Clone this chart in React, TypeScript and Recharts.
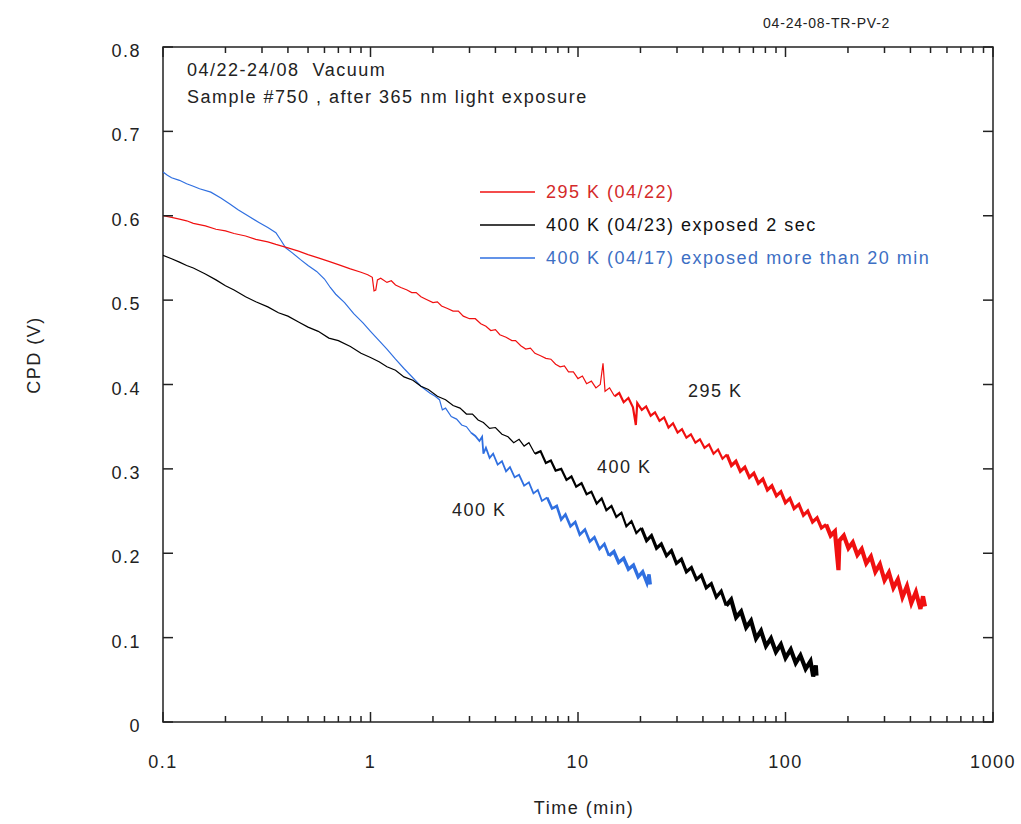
import { Line, LineChart, ReferenceArea, XAxis, YAxis } from "recharts";

const FONT = '"Liberation Sans", Arial, sans-serif';
const W = 1021;
const H = 824;
const MARGIN = { top: 47, right: 28, bottom: 72, left: 0 };
const PLOT_TOP = MARGIN.top;
const PLOT_RIGHT = W - MARGIN.right;

const MAJOR_TICKS = [0.1, 1, 10, 100, 1000];
const MINOR_TICKS = [
  0.2, 0.3, 0.4, 0.5, 0.6, 0.7, 0.8, 0.9,
  2, 3, 4, 5, 6, 7, 8, 9,
  20, 30, 40, 50, 60, 70, 80, 90,
  200, 300, 400, 500, 600, 700, 800, 900,
];
const Y_TICKS = [0, 0.1, 0.2, 0.3, 0.4, 0.5, 0.6, 0.7, 0.8];

// 295 K (04/22)
const RED_T = [
  0.1, 0.11, 0.12, 0.13, 0.14, 0.16, 0.18, 0.2, 0.22, 0.25, 0.28, 0.32, 0.35, 0.4, 0.45, 0.5,
  0.56, 0.63, 0.7, 0.8, 0.9, 0.97, 1.02, 1.04, 1.06, 1.08, 1.12, 1.2, 1.26, 1.32, 1.4, 1.5,
  1.58, 1.66, 1.75, 1.85, 2.0, 2.1, 2.2, 2.35, 2.5, 2.65, 2.8, 3.0, 3.2, 3.4, 3.6, 3.8,
  4.0, 4.2, 4.5, 4.8, 5.0, 5.3, 5.6, 5.9, 6.2, 6.6, 7.0, 7.4, 7.8, 8.2, 8.6, 9.0,
  9.5, 10.0, 10.5, 11.0, 11.6, 12.2, 12.8, 13.2, 13.5, 14.2, 15.0, 15.8, 16.6, 17.5, 18.4, 19.0,
  19.3, 20.3, 21.3, 22.4, 23.5, 24.7, 26.0, 27.3, 28.7, 30.2, 31.7, 33.3, 35.0, 36.8, 38.7, 40.7,
  42.8, 45.0, 47.3, 49.7, 52.2, 54.9, 57.7, 60.6, 63.7, 67.0, 70.4, 74.0, 77.8, 81.8, 86.0, 90.4,
  95.0, 99.9, 105, 110, 116, 122, 128, 135, 142, 149, 157, 165, 173, 180, 182, 191,
  201, 211, 222, 233, 245, 258, 271, 285, 300, 315, 331, 348, 366, 385, 404, 425,
  447, 460, 470,
];
const RED_V = [
  0.6, 0.598, 0.596, 0.594, 0.591, 0.588, 0.584, 0.582, 0.579, 0.576, 0.572, 0.569, 0.566, 0.562, 0.558, 0.554,
  0.55, 0.546, 0.542, 0.537, 0.533, 0.53, 0.527, 0.511, 0.512, 0.524, 0.526, 0.521, 0.523, 0.518, 0.515, 0.512,
  0.509, 0.509, 0.504, 0.501, 0.497, 0.498, 0.493, 0.49, 0.487, 0.487, 0.481, 0.478, 0.478, 0.472, 0.469, 0.464,
  0.465, 0.459, 0.456, 0.452, 0.452, 0.446, 0.442, 0.443, 0.437, 0.434, 0.431, 0.43, 0.424, 0.421, 0.422, 0.415,
  0.415, 0.407, 0.41, 0.401, 0.404, 0.396, 0.4, 0.425, 0.392, 0.396, 0.386, 0.39, 0.379, 0.384, 0.373, 0.352,
  0.378, 0.37, 0.374, 0.363, 0.367, 0.357, 0.361, 0.349, 0.354, 0.343, 0.347, 0.337, 0.341, 0.331, 0.335, 0.325,
  0.329, 0.318, 0.323, 0.312, 0.317, 0.304, 0.309, 0.297, 0.302, 0.29, 0.295, 0.283, 0.288, 0.275, 0.28, 0.268,
  0.273, 0.26, 0.265, 0.253, 0.258, 0.245, 0.25, 0.237, 0.242, 0.23, 0.234, 0.221, 0.226, 0.18, 0.215, 0.221,
  0.206, 0.213, 0.198, 0.205, 0.188, 0.196, 0.178, 0.187, 0.168, 0.177, 0.159, 0.169, 0.148, 0.161, 0.141, 0.154,
  0.134, 0.149, 0.137,
];

// 400 K (04/23) exposed 2 sec
const BLACK_T = [
  0.1, 0.11, 0.12, 0.13, 0.14, 0.16, 0.18, 0.2, 0.22, 0.25, 0.28, 0.32, 0.36, 0.4, 0.45, 0.5,
  0.56, 0.63, 0.7, 0.8, 0.9, 1.0, 1.1, 1.2, 1.32, 1.45, 1.6, 1.75, 1.9, 2.1, 2.3, 2.5,
  2.7, 2.9, 3.1, 3.3, 3.5, 3.75, 4.0, 4.3, 4.6, 4.9, 5.2, 5.5, 5.8, 6.2, 6.6, 7.0,
  7.4, 7.8, 8.3, 8.8, 9.3, 9.8, 10.4, 11.0, 11.6, 12.3, 13.0, 13.7, 14.5, 15.3, 16.2, 17.1,
  18.1, 19.1, 20.2, 21.4, 22.6, 23.9, 25.2, 26.7, 28.2, 29.8, 31.5, 33.3, 35.2, 37.2, 39.3, 41.5,
  43.9, 46.4, 49.0, 51.8, 54.7, 57.8, 61.1, 64.6, 68.2, 72.1, 76.2, 80.5, 85.1, 89.9, 95.0, 100,
  106, 112, 118, 125, 132, 136, 140, 141,
];
const BLACK_V = [
  0.553, 0.549, 0.545, 0.541, 0.538, 0.531, 0.524, 0.517, 0.512, 0.504, 0.498, 0.492, 0.485, 0.481, 0.474, 0.468,
  0.463, 0.455, 0.452, 0.445, 0.437, 0.432, 0.427, 0.421, 0.417, 0.409, 0.405, 0.398, 0.394, 0.386, 0.382, 0.375,
  0.372, 0.365, 0.365, 0.358, 0.355, 0.348, 0.349, 0.341, 0.338, 0.331, 0.335, 0.327, 0.331, 0.318, 0.321, 0.307,
  0.31, 0.298, 0.3, 0.287, 0.291, 0.279, 0.283, 0.27, 0.273, 0.259, 0.265, 0.251, 0.256, 0.243, 0.248, 0.232,
  0.238, 0.224, 0.23, 0.215, 0.221, 0.206, 0.211, 0.197, 0.203, 0.188, 0.193, 0.178, 0.183, 0.169, 0.174, 0.159,
  0.164, 0.148, 0.155, 0.138, 0.145, 0.124, 0.131, 0.112, 0.12, 0.099, 0.108, 0.09, 0.099, 0.083, 0.092, 0.076,
  0.086, 0.07, 0.079, 0.063, 0.072, 0.054, 0.067, 0.055,
];

// 400 K (04/17) exposed more than 20 min
const BLUE_T = [
  0.1, 0.105, 0.11, 0.12, 0.13, 0.14, 0.15, 0.17, 0.19, 0.21, 0.23, 0.26, 0.29, 0.32, 0.35, 0.37,
  0.39, 0.42, 0.46, 0.5, 0.55, 0.6, 0.64, 0.68, 0.75, 0.83, 0.92, 1.0, 1.1, 1.2, 1.32, 1.45,
  1.6, 1.75, 1.93, 2.05, 2.15, 2.22, 2.3, 2.45, 2.6, 2.75, 2.9, 3.05, 3.2, 3.35, 3.45, 3.5,
  3.6, 3.75, 3.9, 4.1, 4.3, 4.5, 4.7, 4.95, 5.2, 5.5, 5.8, 6.1, 6.4, 6.7, 7.1, 7.5,
  7.9, 8.3, 8.7, 9.2, 9.7, 10.2, 10.8, 11.4, 12.0, 12.7, 13.4, 14.1, 14.9, 15.7, 16.6, 17.5,
  18.5, 19.5, 20.5, 21.5, 22.0, 22.3,
];
const BLUE_V = [
  0.652, 0.648, 0.645, 0.642, 0.638, 0.635, 0.632, 0.628, 0.621, 0.614, 0.607, 0.599, 0.592, 0.586, 0.58, 0.571,
  0.562, 0.556, 0.548, 0.541, 0.534, 0.525, 0.515, 0.507, 0.497, 0.484, 0.473, 0.463, 0.452, 0.442, 0.43, 0.419,
  0.408, 0.398, 0.39, 0.386, 0.382, 0.37, 0.372, 0.362, 0.359, 0.352, 0.35, 0.343, 0.339, 0.333, 0.338, 0.318,
  0.325, 0.313, 0.318, 0.305, 0.309, 0.297, 0.302, 0.29, 0.293, 0.28, 0.284, 0.271, 0.275, 0.262, 0.266, 0.253,
  0.256, 0.24, 0.246, 0.232, 0.237, 0.222, 0.228, 0.214, 0.219, 0.205, 0.211, 0.197, 0.202, 0.189, 0.194, 0.181,
  0.186, 0.172, 0.178, 0.165, 0.175, 0.163,
];

// the traces get noisier (visually thicker) at long times
const RED_WIDTHS = [1.2, 2.2, 3.2, 4.2];
const RED_FROM = [0.1, 15, 50, 150];
const BLACK_WIDTHS = [1.2, 2.2, 3.2, 4.2];
const BLACK_FROM = [0.1, 6, 20, 50];
const BLUE_WIDTHS = [1.2, 1.8, 2.6, 3.4];
const BLUE_FROM = [0.1, 3, 7, 14];

type Pt = { t: number; v: number };
const toPoints = (ts: number[], vs: number[]): Pt[] => ts.map((t, i) => ({ t, v: vs[i] }));

function segments(pts: Pt[], from: number[], widths: number[]) {
  const starts = from.map((f) => pts.findIndex((p) => p.t >= f));
  return starts.map((s, i) => ({
    width: widths[i],
    data: pts.slice(s, i + 1 < starts.length ? starts[i + 1] + 1 : pts.length),
  }));
}

const SERIES = [
  { key: "blue", name: "400 K (04/17) exposed more than 20 min", color: "#2f6fe0", text: "#3d6fc4", segs: segments(toPoints(BLUE_T, BLUE_V), BLUE_FROM, BLUE_WIDTHS) },
  { key: "black", name: "400 K (04/23) exposed 2 sec", color: "#000000", text: "#111111", segs: segments(toPoints(BLACK_T, BLACK_V), BLACK_FROM, BLACK_WIDTHS) },
  { key: "red", name: "295 K (04/22)", color: "#f01010", text: "#d42a2a", segs: segments(toPoints(RED_T, RED_V), RED_FROM, RED_WIDTHS) },
];
const LEGEND_ORDER = ["red", "black", "blue"];

const textStyle = { fontFamily: FONT, fontSize: 18, letterSpacing: 1.5, fill: "#222" };

function XTick({ x, y, payload }: { x?: number; y?: number; payload?: { value: number } }) {
  if (x == null || y == null || !payload) return null;
  const major = MAJOR_TICKS.includes(payload.value);
  const len = major ? 10 : 6;
  return (
    <g>
      <line x1={x} x2={x} y1={y} y2={y - len} stroke="#222" strokeWidth={1.5} />
      <line x1={x} x2={x} y1={PLOT_TOP} y2={PLOT_TOP + len} stroke="#222" strokeWidth={1.5} />
      {major && (
        <text x={x} y={y + 40} textAnchor="middle" dominantBaseline="central" style={textStyle}>
          {payload.value}
        </text>
      )}
    </g>
  );
}

function YTick({ x, y, payload }: { x?: number; y?: number; payload?: { value: number } }) {
  if (x == null || y == null || !payload) return null;
  return (
    <g>
      <line x1={x} x2={x + 10} y1={y} y2={y} stroke="#222" strokeWidth={1.5} />
      <line x1={PLOT_RIGHT} x2={PLOT_RIGHT - 10} y1={y} y2={y} stroke="#222" strokeWidth={1.5} />
      <text x={x - 22} y={y + 4} textAnchor="end" dominantBaseline="central" style={textStyle}>
        {payload.value}
      </text>
    </g>
  );
}

export default function App() {
  return (
    <div style={{ position: "absolute", left: 0, top: 0, width: W, height: H, background: "#fff" }}>
      <LineChart width={W} height={H} margin={MARGIN}>
        <XAxis
          dataKey="t"
          type="number"
          scale="log"
          domain={[0.1, 1000]}
          allowDataOverflow
          ticks={[...MAJOR_TICKS, ...MINOR_TICKS]}
          interval={0}
          tick={<XTick />}
          tickLine={false}
          axisLine={false}
          tickSize={0}
          tickMargin={0}
          height={30}
        />
        <YAxis
          type="number"
          domain={[0, 0.8]}
          ticks={Y_TICKS}
          interval={0}
          tick={<YTick />}
          tickLine={false}
          axisLine={false}
          tickSize={0}
          tickMargin={0}
          width={163}
        />
        <ReferenceArea x1={0.1} x2={1000} y1={0} y2={0.8} fill="none" stroke="#222" strokeWidth={1.5} />
        {SERIES.flatMap((s) =>
          s.segs.map((seg, i) => (
            <Line
              key={`${s.key}-${i}`}
              data={seg.data}
              dataKey="v"
              type="linear"
              stroke={s.color}
              strokeWidth={seg.width}
              strokeLinejoin="miter"
              dot={false}
              activeDot={false}
              isAnimationActive={false}
            />
          ))
        )}
      </LineChart>
      <svg width={W} height={H} style={{ position: "absolute", left: 0, top: 0, pointerEvents: "none" }}>
        <text x={763} y={23} dominantBaseline="central" style={{ ...textStyle, fontSize: 14, letterSpacing: 0.8 }}>
          04-24-08-TR-PV-2
        </text>
        <text x={187} y={70} dominantBaseline="central" style={textStyle} xmlSpace="preserve">
          04/22-24/08  Vacuum
        </text>
        <text x={187} y={97} dominantBaseline="central" style={textStyle}>
          Sample #750 , after 365 nm light exposure
        </text>
        {LEGEND_ORDER.map((k, i) => {
          const s = SERIES.find((d) => d.key === k)!;
          const y = 192 + i * 33;
          return (
            <g key={k}>
              <line x1={480} x2={535} y1={y} y2={y} stroke={s.color} strokeWidth={1.3} />
              <text x={546} y={y} dominantBaseline="central" style={{ ...textStyle, fill: s.text }}>
                {s.name}
              </text>
            </g>
          );
        })}
        <text x={688} y={391} dominantBaseline="central" style={textStyle}>295 K</text>
        <text x={597} y={467} dominantBaseline="central" style={textStyle}>400 K</text>
        <text x={452} y={510} dominantBaseline="central" style={textStyle}>400 K</text>
        <text x={584} y={808} textAnchor="middle" dominantBaseline="central" style={textStyle}>Time (min)</text>
        <text
          x={34}
          y={355}
          textAnchor="middle"
          dominantBaseline="central"
          transform="rotate(-90 34 355)"
          style={textStyle}
        >
          CPD (V)
        </text>
      </svg>
    </div>
  );
}
